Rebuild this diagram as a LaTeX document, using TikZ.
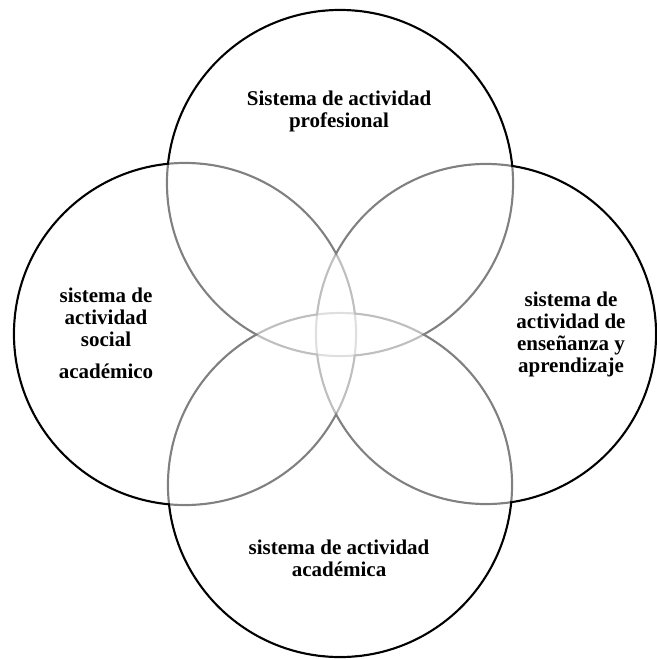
\documentclass[tikz,border=0pt]{standalone}
\usepackage{fontspec}
\setmainfont{Liberation Serif}
\begin{document}
\begin{tikzpicture}[x=1pt,y=-1pt,
  ring/.style={draw=black,line width=2.2pt},
  veil/.style={fill=white,fill opacity=0.5},
  lbl/.style={align=center,inner sep=0pt,anchor=north,font=\bfseries\fontsize{21}{22}\selectfont}]
\useasboundingbox[fill=white] (0,0) rectangle (656,660);
\coordinate (cT) at (340,183);
\coordinate (cL) at (185,334);
\coordinate (cR) at (486,334);
\coordinate (cB) at (340,485);
% outlines
\draw[ring] (cT) circle[radius=173];
\draw[ring] (cL) circle[radius=171];
\draw[ring] (cR) circle[radius=170];
\draw[ring] (cB) circle[radius=172];
% translucent white interiors (grey out inner arcs)
\fill[veil] (cT) circle[radius=171.9];
\fill[veil] (cL) circle[radius=169.9];
\fill[veil] (cR) circle[radius=168.9];
\fill[veil] (cB) circle[radius=170.9];
% labels
\node[lbl] (tT) at (339,91) {Sistema de actividad\\profesional};
\node[lbl] (tL) at (106,288) {sistema de\\actividad\\social\\[10pt]académico};
\node[lbl] (tR) at (571,292) {sistema de\\actividad de\\enseñanza y\\aprendizaje};
\node[lbl] (tB) at (339,540) {sistema de actividad\\académica};
\end{tikzpicture}
\end{document}
